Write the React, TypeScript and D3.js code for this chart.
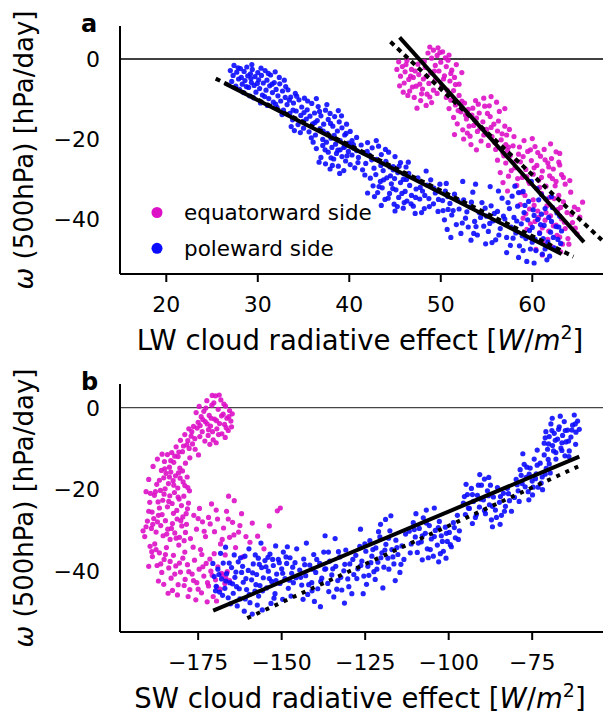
import React from "react";
import * as d3 from "d3";

const W = 603;
const H = 713;

const lwTicks = [20, 30, 40, 50, 60];
const swTicks = [-175, -150, -125, -100, -75];
const omegaTicks = [0, -20, -40];
const legendLabels = ["equatorward side", "poleward side"];

// Panel a: LW CRE vs omega, poleward side
const lwPole: [number, number][] = [
  [27.0,-2.9],[27.3,-4.1],[27.4,-1.6],[27.7,-3.3],[27.9,-5.0],[28.1,-2.4],[28.2,-4.6],[28.3,-6.3],[28.5,-3.1],[28.6,-5.4],[28.8,-2.0],[28.9,-4.2],[29.0,-7.1],[29.2,-3.7],[29.3,-5.9],[29.4,-2.6],[29.6,-6.6],[29.7,-4.4],[29.8,-8.3],[30.0,-3.4],[30.1,-5.2],[30.2,-7.4],[30.4,-4.1],[30.5,-9.0],[30.6,-6.0],[30.8,-2.9],[30.9,-7.8],[31.0,-5.3],[31.2,-9.9],[31.3,-6.7],[31.4,-4.0],[31.6,-8.4],[31.7,-10.8],[31.8,-5.9],[32.0,-7.6],[32.1,-12.1],[32.2,-9.2],[32.4,-6.2],[32.5,-10.5],[32.7,-8.0],[32.8,-12.8],[32.9,-5.3],[33.0,-9.6],[28.0,-7.6],[29.1,-9.2],[27.6,-6.8],[30.3,-11.0],[31.9,-3.2],
  [33.2,-11.4],[33.3,-7.7],[33.5,-13.6],[33.6,-9.5],[33.8,-15.2],[33.9,-11.0],[34.1,-8.6],[34.2,-13.0],[34.4,-16.4],[34.5,-10.2],[34.7,-14.1],[34.8,-12.0],[35.0,-17.3],[35.1,-9.8],[35.3,-15.0],[35.4,-12.7],[35.6,-18.2],[35.7,-14.3],[35.9,-11.1],[36.0,-16.2],[36.2,-13.5],[36.3,-19.0],[36.5,-15.4],[36.6,-11.9],[36.8,-17.4],[36.9,-14.2],[37.1,-20.1],[37.2,-16.3],[37.4,-12.8],[37.6,-18.6],[37.7,-15.1],[37.9,-13.6],[38.0,-19.8],[38.2,-16.8],[38.4,-14.4],[38.5,-21.3],[38.7,-18.0],[38.9,-15.7],[39.0,-20.4],[39.2,-17.2],[39.4,-22.1],[39.5,-19.0],[39.7,-16.3],[39.9,-21.0],[40.1,-18.1],[34.0,-17.9],[36.4,-9.9],[38.8,-12.9],
  [36.4,-22.4],[36.9,-24.6],[37.1,-21.6],[37.4,-26.2],[37.7,-23.3],[37.9,-27.5],[38.1,-22.1],[38.3,-25.0],[38.6,-23.6],[38.8,-26.8],[39.0,-22.7],[39.2,-24.4],[39.4,-27.9],[39.6,-25.5],[39.9,-23.1],[40.1,-26.4],[40.3,-24.0],[40.6,-27.2],[40.8,-22.9],[38.0,-24.7],[39.5,-21.9],[37.5,-20.8],
  [40.3,-20.4],[40.5,-22.3],[40.8,-19.6],[41.0,-24.6],[41.3,-21.5],[41.5,-23.4],[41.8,-26.1],[42.0,-20.9],[42.2,-24.0],[42.5,-22.2],[42.7,-27.3],[43.0,-25.1],[43.2,-21.8],[43.5,-23.9],[43.7,-27.9],[44.0,-25.6],[44.3,-23.3],[44.5,-29.2],[44.8,-26.9],[45.0,-24.4],[45.3,-28.4],[45.6,-25.9],[45.9,-30.1],[46.2,-27.0],[41.7,-29.0],
  [42.3,-29.8],[42.6,-31.7],[42.9,-28.9],[43.1,-33.4],[43.4,-30.6],[43.6,-32.2],[43.9,-35.1],[44.1,-29.7],[44.4,-33.6],[44.6,-31.2],[44.9,-36.3],[45.1,-32.7],[45.4,-34.6],[45.6,-30.9],[45.9,-37.3],[46.1,-33.1],[46.3,-35.5],[46.6,-31.6],[46.8,-34.1],[47.0,-36.8],[47.3,-32.5],[47.5,-29.7],[47.7,-35.0],[48.0,-33.0],[48.2,-37.4],[48.5,-31.5],[48.7,-34.9],[48.9,-30.2],[49.2,-36.2],[49.4,-33.5],[49.7,-38.1],[49.9,-31.3],[50.2,-35.4],[50.5,-33.0],[50.8,-37.6],[47.2,-38.6],[45.0,-38.0],[43.5,-36.6],[46.5,-28.6],[48.4,-28.0],[44.8,-27.7],[42.0,-33.5],
  [50.4,-40.2],[50.7,-42.6],[51.0,-36.1],[51.2,-39.0],[51.5,-33.8],[51.7,-41.4],[52.0,-37.5],[52.2,-43.6],[52.5,-35.2],[52.7,-39.8],[53.0,-42.0],[53.2,-37.0],[53.5,-33.3],[53.7,-40.6],[54.0,-44.0],[54.2,-38.4],[54.5,-35.9],[54.7,-41.8],[55.0,-39.3],[55.2,-43.1],[55.5,-36.7],[55.7,-40.5],[56.0,-45.2],[56.2,-38.1],[56.5,-42.4],[56.7,-34.8],[57.0,-40.0],[57.2,-44.6],[57.5,-37.4],[57.7,-42.0],[52.4,-30.6],[53.8,-31.3],[55.4,-31.9],[56.3,-33.0],[51.1,-44.6],[53.3,-45.3],[50.6,-31.1],[54.9,-46.2],
  [57.8,-34.3],[58.0,-39.6],[58.2,-43.5],[58.4,-36.8],[58.6,-46.7],[58.8,-41.2],[59.0,-33.1],[59.1,-38.4],[59.3,-44.9],[59.5,-40.2],[59.6,-35.6],[59.8,-47.5],[60.0,-42.1],[60.1,-37.7],[60.3,-45.0],[60.5,-32.4],[60.6,-40.1],[60.8,-43.6],[61.0,-38.8],[61.1,-48.8],[61.3,-41.6],[61.5,-35.0],[61.7,-45.8],[61.8,-39.6],[62.0,-43.3],[62.2,-37.1],[62.4,-47.2],[62.6,-41.9],[62.8,-45.1],[63.0,-39.3],[63.2,-43.0],[58.5,-49.6],[59.4,-50.6],[60.2,-51.0],[61.6,-50.2],[57.2,-48.4],[60.7,-35.2],[59.9,-30.6],[62.1,-34.4],[58.1,-31.8],[60.4,-47.9],[61.9,-49.3],
];
const lwPoleMore: [number, number][] = [
  [27.15,-5.6],[27.85,-2.2],[28.45,-8.4],[28.75,-6.9],[29.35,-1.4],[29.55,-9.7],[29.95,-6.1],[30.35,-2.3],[30.75,-9.4],[31.15,-3.6],[31.55,-6.3],[31.95,-11.3],[32.35,-4.6],[32.65,-13.9],[33.05,-6.9],[33.45,-10.3],[33.85,-12.8],[34.25,-9.3],[34.65,-18.4],[35.05,-13.4],[35.45,-10.5],[35.85,-19.7],[36.25,-15.9],[36.75,-13.1],[37.15,-18.0],[37.55,-11.4],[37.95,-16.1],[38.35,-19.1],[38.75,-22.8],[39.15,-14.2],[39.65,-18.6],[40.05,-21.6],[34.95,-15.6],[31.05,-11.6],[29.25,-4.9],[33.65,-16.9],[36.05,-20.8],
  [36.7,-25.8],[37.35,-22.7],[38.15,-26.6],[38.95,-28.6],[39.75,-24.2],[40.45,-21.4],[40.95,-25.9],[41.45,-27.7],[41.95,-23.1],[42.45,-25.2],[42.95,-20.4],[43.45,-26.6],[43.95,-22.6],[44.45,-27.0],[44.95,-29.9],[45.45,-26.8],[45.95,-28.7],[46.45,-25.8],
  [42.75,-34.4],[43.25,-31.9],[43.75,-30.2],[44.25,-34.8],[44.75,-32.4],[45.25,-36.9],[45.75,-33.6],[46.25,-30.1],[46.75,-36.2],[47.25,-34.6],[47.75,-32.1],[48.25,-34.1],[48.75,-36.9],[49.25,-32.3],[49.75,-35.1],[50.25,-37.9],[50.75,-34.4],[46.0,-35.9],[47.9,-38.4],
  [51.35,-37.9],[51.85,-35.3],[52.35,-41.0],[52.85,-38.2],[53.35,-35.8],[53.85,-41.9],[54.35,-39.6],[54.85,-37.3],[55.35,-41.1],[55.85,-38.6],[56.35,-44.0],[56.85,-39.3],[57.35,-35.9],[53.6,-43.6],[55.6,-45.9],[57.6,-46.6],
  [58.3,-40.5],[58.9,-44.2],[59.2,-36.6],[59.7,-42.9],[60.2,-39.1],[60.9,-41.4],[61.4,-37.4],[61.2,-44.9],[62.1,-40.6],[62.7,-38.5],[62.3,-44.6],[63.1,-46.1],[60.0,-45.8],[59.0,-47.9],[61.4,-47.5],[57.9,-44.8],[62.9,-42.0],[58.5,-33.4],[61.0,-33.9],
];

// Panel a: LW CRE vs omega, equatorward side
const lwEq: [number, number][] = [
  [45.2,-2.6],[45.4,-0.7],[45.6,-4.3],[45.8,-1.9],[46.0,-6.0],[46.1,-3.2],[46.3,-0.4],[46.5,-5.1],[46.6,-8.0],[46.8,-2.6],[47.0,-4.6],[47.1,-9.6],[47.3,-6.8],[47.5,-1.3],[47.6,-3.9],[47.8,-10.4],[48.0,-7.5],[48.1,-5.0],[48.3,-2.1],[48.5,-8.8],[48.7,-6.1],[48.9,-3.5],[49.0,-10.9],[49.2,-7.8],[49.4,-5.3],[46.9,-7.0],[45.9,-8.3],[48.4,-11.6],[47.4,-12.3],
  [48.6,1.5],[48.8,3.0],[49.0,0.2],[49.2,2.2],[49.4,-1.6],[49.6,0.9],[49.8,-3.0],[50.0,-0.8],[50.2,1.8],[50.4,-4.2],[50.6,-1.9],[50.8,-0.3],[51.0,-5.5],[51.2,-2.8],[51.5,-4.6],[51.7,-1.4],[52.0,-6.3],[52.3,-3.4],[50.1,-6.8],[51.4,-7.9],[49.7,2.8],[50.9,1.0],
  [50.6,-9.6],[50.9,-12.4],[51.1,-10.3],[51.4,-14.6],[51.6,-11.5],[51.8,-16.2],[52.0,-9.1],[52.2,-13.2],[52.4,-17.7],[52.6,-11.0],[52.8,-15.0],[53.0,-12.6],[53.2,-19.3],[53.4,-14.0],[53.6,-16.6],[53.8,-10.4],[54.0,-18.1],[54.2,-13.5],[54.4,-20.5],[54.6,-15.7],[54.8,-11.8],[55.0,-17.6],[55.2,-21.6],[55.4,-14.4],[55.6,-19.4],[55.8,-16.3],[56.0,-22.6],[56.2,-18.0],[56.4,-13.1],[56.6,-20.2],[56.8,-23.5],[57.0,-16.8],[57.2,-19.0],[57.4,-22.0],[53.3,-21.4],[52.5,-20.0],[51.5,-18.9],[55.5,-9.4],[56.1,-10.8],[54.7,-9.8],[57.0,-12.4],[53.9,-22.7],
  [56.2,-25.3],[56.5,-28.4],[56.8,-30.9],[57.1,-26.0],[57.4,-29.3],[57.6,-24.1],[57.9,-21.7],[58.1,-27.2],[58.3,-31.6],[58.5,-23.8],[58.7,-25.7],[58.9,-29.6],[59.1,-20.4],[59.3,-27.6],[59.5,-23.1],[59.7,-31.1],[59.9,-25.4],[60.1,-28.8],[60.3,-21.9],[60.5,-26.6],[60.7,-30.3],[60.9,-24.3],[61.1,-28.0],[61.3,-22.6],[61.5,-31.8],[61.7,-26.0],[61.9,-29.2],[62.1,-24.9],[62.3,-27.5],[62.6,-30.6],[62.9,-25.8],[63.2,-28.9],[63.6,-31.3],[58.0,-19.4],[60.0,-19.9],[62.0,-21.2],[63.0,-23.6],[57.3,-33.0],[58.8,-33.4],
  [58.7,-36.4],[59.0,-39.8],[59.2,-34.1],[59.4,-42.6],[59.7,-37.5],[59.9,-44.8],[60.1,-35.2],[60.3,-40.6],[60.6,-38.0],[60.8,-43.4],[61.0,-33.6],[61.2,-46.1],[61.4,-40.3],[61.6,-36.7],[61.8,-43.0],[62.0,-39.2],[62.2,-47.0],[62.4,-34.9],[62.6,-41.5],[62.8,-37.6],[63.0,-44.5],[63.2,-40.0],[63.4,-35.7],[63.6,-42.4],[63.8,-38.4],[64.0,-46.3],[64.2,-33.3],[64.4,-40.9],[64.6,-37.0],[64.9,-43.7],[65.2,-39.5],[65.5,-35.8],[64.1,-30.4],[63.1,-48.2],[61.1,-49.0],[60.4,-47.6],[62.5,-31.7],[59.6,-30.6],
];
const lwEqMore: [number, number][] = [
  [45.5,-6.7],[46.2,-1.4],[46.7,-4.3],[47.2,-3.0],[47.7,-6.3],[48.2,-0.6],[48.8,-9.5],[49.3,-3.0],[49.6,-8.6],[50.3,-5.0],[50.7,-7.8],[51.1,-3.6],[51.6,-6.4],[49.9,1.6],[50.5,0.3],[48.4,-4.4],[47.9,-8.7],[46.4,-9.1],
  [51.9,-12.9],[52.3,-10.5],[52.7,-14.0],[53.1,-16.8],[53.5,-12.3],[53.9,-14.8],[54.3,-17.3],[54.7,-19.0],[55.1,-13.6],[55.5,-17.1],[55.9,-20.9],[56.3,-15.5],[56.7,-18.7],[57.1,-21.4],[57.5,-17.6],[54.1,-11.3],[55.3,-11.7],[52.9,-18.5],
  [56.9,-24.2],[57.3,-22.9],[57.7,-27.9],[58.2,-25.5],[58.6,-22.0],[59.0,-24.4],[59.4,-29.4],[59.8,-22.7],[60.2,-27.2],[60.6,-23.4],[61.0,-29.6],[61.4,-25.2],[61.8,-27.0],[62.2,-29.9],[62.6,-23.2],[63.0,-26.5],[63.4,-29.6],[58.4,-29.9],[60.8,-32.1],
  [59.3,-38.7],[59.8,-41.2],[60.2,-36.6],[60.7,-39.6],[61.1,-42.2],[61.5,-38.4],[61.9,-34.6],[62.3,-41.7],[62.7,-44.1],[63.1,-37.1],[63.5,-40.8],[63.9,-44.9],[64.3,-38.9],[64.7,-42.3],[65.0,-37.6],[62.9,-34.1],[61.7,-45.1],[63.3,-46.3],
];

// Panel b: SW CRE vs omega, equatorward side
const swEq: [number, number][] = [
  [-175.6,-1.2],[-175.0,-3.6],[-174.7,0.3],[-174.1,-2.2],[-173.8,-5.9],[-173.3,-0.9],[-172.9,-3.4],[-172.4,1.7],[-172.0,-6.8],[-171.7,-1.9],[-171.3,-4.5],[-170.9,0.6],[-170.5,-7.9],[-170.1,-2.8],[-169.8,2.9],[-169.4,-5.2],[-169.0,-0.4],[-168.6,-3.9],[-168.2,1.9],[-167.9,-6.4],[-167.5,-1.6],[-167.1,-4.1],[-166.8,0.4],[-166.4,-2.6],[-166.0,-5.6],[-165.6,-0.7],[-165.2,-3.3],[-164.8,-1.5],[-171.5,-9.0],[-169.6,-8.6],[-173.0,-8.2],[-168.7,3.1],[-170.8,3.0],[-174.5,-7.1],[-166.9,-7.3],
  [-176.4,-4.6],[-177.1,-7.0],[-177.8,-5.2],[-178.4,-9.1],[-179.0,-6.6],[-179.7,-10.8],[-180.3,-8.0],[-181.0,-12.0],[-181.6,-9.6],[-182.3,-13.4],[-182.9,-11.0],[-183.6,-14.6],[-175.9,-10.2],[-177.5,-12.3],[-178.8,-13.6],[-180.5,-14.8],[-184.2,-11.5],[-176.7,-8.9],[-174.9,-11.6],[-185.1,-13.2],
  [-186.0,-15.4],[-185.3,-17.2],[-184.6,-16.1],[-183.9,-18.6],[-183.2,-15.8],[-182.5,-17.9],[-181.8,-16.7],[-181.1,-19.7],[-180.4,-17.3],[-179.7,-15.5],[-179.0,-19.1],[-178.3,-17.0],[-177.6,-20.4],[-187.4,-18.8],[-188.1,-21.5],[-187.0,-23.1],[-186.3,-20.3],[-185.6,-22.7],[-184.9,-19.9],[-184.2,-24.3],[-183.5,-21.6],[-182.8,-23.5],[-182.1,-20.8],[-181.4,-25.2],[-180.7,-22.4],[-180.0,-24.0],[-179.3,-21.7],[-178.6,-26.0],[-177.9,-23.4],[-188.8,-25.6],[-189.5,-23.2],[-190.2,-27.8],[-189.0,-29.6],[-188.3,-27.2],[-187.6,-30.5],[-186.9,-26.4],[-186.2,-28.9],[-185.5,-31.4],[-184.8,-27.7],[-184.1,-29.8],[-183.4,-32.3],[-182.7,-28.4],[-182.0,-30.7],[-181.3,-27.3],[-180.6,-31.8],[-179.9,-29.0],[-179.2,-32.6],[-178.5,-28.6],[-191.0,-31.6],[-191.5,-30.2],[-190.6,-20.6],[-189.8,-17.6],[-188.5,-14.4],[-187.2,-12.6],[-185.8,-11.4],
  [-189.4,-34.0],[-188.7,-36.5],[-188.0,-33.4],[-187.3,-38.7],[-186.6,-35.6],[-185.9,-40.4],[-185.2,-37.2],[-184.5,-34.3],[-183.8,-39.3],[-183.1,-41.8],[-182.4,-36.2],[-181.7,-38.8],[-181.0,-43.4],[-180.3,-40.3],[-179.6,-36.9],[-178.9,-42.1],[-178.2,-38.5],[-177.5,-44.6],[-176.8,-40.8],[-176.1,-37.4],[-175.4,-42.9],[-174.7,-39.6],[-174.0,-45.4],[-173.3,-41.3],[-172.6,-38.2],[-171.9,-43.7],[-171.2,-40.1],[-170.5,-46.3],[-169.8,-42.2],[-169.1,-39.0],[-168.4,-44.5],[-167.7,-41.0],[-167.0,-43.1],[-166.3,-40.2],[-165.6,-42.4],[-184.0,-45.5],[-172.3,-47.6],[-178.0,-46.3],[-180.8,-33.7],[-176.5,-34.2],[-173.9,-36.0],[-170.2,-35.8],[-175.7,-47.1],[-169.5,-47.4],[-186.9,-42.5],[-182.7,-44.8],[-177.3,-32.1],[-189.8,-38.9],
  [-176.3,-26.4],[-175.5,-29.8],[-174.6,-24.7],[-173.7,-28.0],[-172.8,-31.6],[-171.9,-26.9],[-171.0,-23.6],[-170.1,-30.4],[-169.2,-27.3],[-168.3,-33.4],[-167.4,-29.5],[-166.5,-25.4],[-165.6,-31.8],[-164.7,-28.1],[-163.8,-34.3],[-162.9,-30.5],[-164.2,-22.8],[-165.9,-21.7],[-161.6,-36.6],[-159.5,-33.0],[-157.2,-31.5],[-155.3,-34.6],[-153.7,-29.0],[-151.3,-25.3],[-150.4,-24.6],[-158.8,-28.3],[-162.0,-26.0],
];
const swEqMore: [number, number][] = [
  [-175.3,-5.0],[-174.4,-4.4],[-173.6,-2.9],[-172.7,-0.1],[-171.9,-5.4],[-171.1,-2.6],[-170.3,1.2],[-169.5,-3.2],[-168.9,-6.6],[-168.0,-2.0],[-167.3,0.9],[-166.6,-4.9],[-165.8,-2.2],[-165.0,-4.7],[-170.7,-5.9],[-172.3,-4.0],
  [-176.9,-5.9],[-178.1,-8.1],[-179.4,-9.4],[-180.8,-10.9],[-182.0,-11.9],[-183.2,-13.0],[-176.0,-7.6],[-177.7,-10.0],
  [-186.6,-17.8],[-185.0,-15.0],[-183.6,-17.0],[-182.3,-19.0],[-180.9,-16.0],[-179.5,-18.2],[-178.1,-19.6],[-187.8,-20.6],[-186.6,-24.6],[-185.2,-21.2],[-183.8,-23.0],[-182.4,-25.9],[-181.0,-21.9],[-179.6,-26.8],[-178.2,-24.8],[-189.8,-25.4],[-188.6,-28.6],[-187.2,-28.0],[-185.8,-26.2],[-184.4,-31.0],[-183.0,-29.6],[-181.6,-32.0],[-180.2,-27.7],[-178.8,-30.6],[-190.6,-29.2],[-189.3,-21.0],
  [-188.9,-35.3],[-187.6,-34.8],[-186.2,-38.3],[-184.8,-36.0],[-183.4,-37.7],[-182.0,-40.8],[-180.6,-38.1],[-179.2,-43.6],[-177.8,-40.2],[-176.4,-42.4],[-175.0,-44.5],[-173.6,-39.0],[-172.2,-42.9],[-170.8,-41.1],[-169.4,-44.0],[-168.0,-40.6],[-166.7,-41.8],[-185.3,-43.3],[-181.2,-45.9],[-179.0,-35.4],[-174.3,-34.8],[-171.5,-37.1],
  [-175.0,-27.2],[-173.2,-30.3],[-171.4,-28.5],[-169.6,-25.1],[-167.8,-32.3],[-166.0,-27.3],[-164.3,-31.2],[-162.5,-28.9],[-160.7,-31.6],[-166.9,-36.1],
];

// Panel b: SW CRE vs omega, poleward side
const swPole: [number, number][] = [
  [-170.2,-41.4],[-169.6,-43.8],[-169.1,-39.6],[-168.6,-45.2],[-168.0,-42.0],[-167.5,-38.1],[-167.0,-44.3],[-166.5,-40.7],[-166.0,-46.6],[-165.5,-42.9],[-165.0,-39.2],[-164.5,-45.5],[-164.0,-41.6],[-163.5,-43.9],[-163.0,-37.8],[-162.5,-46.9],[-162.0,-40.4],[-161.5,-42.8],[-161.0,-36.4],[-160.5,-44.6],[-160.0,-39.9],[-159.5,-47.8],[-159.0,-42.2],[-158.5,-38.3],[-158.0,-45.0],[-157.5,-40.9],[-157.0,-36.9],[-156.5,-43.6],[-156.0,-39.2],[-155.5,-41.7],[-155.0,-37.5],[-154.5,-44.2],[-154.0,-40.1],[-153.5,-35.9],[-153.0,-42.6],[-152.5,-38.7],[-152.0,-45.6],[-151.5,-40.8],[-151.0,-37.2],[-150.5,-43.1],[-150.0,-39.5],[-149.5,-35.4],[-149.0,-41.9],[-148.5,-38.2],[-148.0,-44.3],[-147.5,-36.8],[-147.0,-40.6],[-146.5,-42.9],[-146.0,-38.0],[-145.5,-34.6],[-168.3,-35.7],[-166.8,-34.2],[-164.2,-36.1],[-163.3,-48.6],[-161.2,-49.9],[-158.8,-50.6],[-157.3,-48.4],[-155.8,-49.6],[-153.2,-48.0],[-151.8,-33.9],[-149.7,-47.0],[-147.2,-46.2],[-170.6,-38.2],[-159.8,-34.6],[-156.2,-33.2],
  [-144.6,-39.8],[-144.0,-43.5],[-143.4,-37.1],[-142.8,-41.2],[-142.2,-45.8],[-141.6,-38.6],[-141.0,-42.9],[-140.4,-36.0],[-139.8,-40.4],[-139.2,-44.4],[-138.6,-38.2],[-138.0,-41.8],[-137.4,-35.4],[-136.8,-39.5],[-136.2,-43.1],[-135.6,-37.6],[-135.0,-41.0],[-134.4,-46.4],[-133.8,-38.9],[-133.2,-42.4],[-132.6,-36.6],[-132.0,-44.7],[-131.4,-40.0],[-130.8,-34.9],[-130.2,-42.0],[-129.6,-38.3],[-129.0,-45.6],[-128.4,-40.9],[-137.0,-31.4],[-140.2,-47.5],[-142.6,-33.2],[-134.0,-32.1],[-138.4,-48.8],[-143.6,-47.0],[-131.2,-47.9],
  [-127.8,-36.2],[-127.2,-39.5],[-126.6,-34.0],[-126.0,-37.6],[-125.4,-41.3],[-124.8,-35.2],[-124.2,-38.9],[-123.6,-32.6],[-123.0,-36.4],[-122.4,-40.2],[-121.8,-34.4],[-121.2,-37.9],[-120.6,-31.7],[-120.0,-35.6],[-119.4,-39.1],[-118.8,-33.5],[-118.2,-36.9],[-117.6,-30.2],[-117.0,-34.8],[-116.4,-38.3],[-115.8,-32.5],[-115.2,-36.0],[-114.6,-40.4],[-114.0,-33.9],[-113.4,-37.2],[-118.9,-27.4],[-120.4,-28.6],[-124.6,-43.3],[-122.0,-42.1],[-126.4,-29.8],[-116.0,-42.4],[-119.7,-44.2],[-117.3,-26.5],[-112.9,-31.0],[-125.6,-45.6],
  [-111.8,-30.3],[-111.2,-33.4],[-110.6,-28.2],[-110.0,-31.7],[-109.4,-35.5],[-108.8,-29.6],[-108.2,-32.9],[-107.6,-27.0],[-107.0,-30.8],[-106.4,-34.6],[-105.8,-28.9],[-105.2,-32.2],[-104.6,-36.4],[-104.0,-30.1],[-103.4,-33.7],[-102.8,-27.9],[-102.2,-31.4],[-101.6,-35.2],[-101.0,-29.3],[-100.4,-32.8],[-99.8,-30.6],[-99.2,-34.1],[-98.6,-28.2],[-98.0,-31.9],[-97.4,-26.4],[-107.9,-37.3],[-104.3,-24.6],[-100.8,-36.9],[-106.7,-25.1],[-96.8,-30.2],[-109.8,-26.0],[-103.0,-37.8],
  [-95.6,-23.4],[-95.0,-26.2],[-94.4,-21.3],[-93.8,-24.7],[-93.2,-19.8],[-92.6,-23.0],[-92.0,-26.9],[-91.4,-21.5],[-90.8,-24.4],[-90.2,-19.0],[-89.6,-22.6],[-89.0,-26.0],[-88.4,-20.4],[-87.8,-23.8],[-87.2,-27.5],[-86.6,-21.9],[-86.0,-25.1],[-85.4,-19.6],[-84.8,-23.2],[-84.2,-26.4],[-83.6,-21.0],[-83.0,-24.2],[-82.4,-19.8],[-81.8,-22.8],[-81.2,-25.4],[-90.7,-16.4],[-89.3,-17.5],[-86.9,-29.2],[-92.9,-28.4],[-88.0,-17.1],[-84.6,-28.6],[-94.8,-18.8],
  [-79.8,-17.6],[-79.2,-20.4],[-78.6,-15.2],[-78.0,-18.6],[-77.4,-13.9],[-76.8,-17.1],[-76.2,-20.6],[-75.6,-14.8],[-75.0,-18.0],[-74.4,-12.6],[-73.8,-16.2],[-73.2,-19.5],[-72.6,-13.6],[-72.0,-17.0],[-71.4,-11.6],[-70.8,-14.9],[-70.2,-12.7],[-69.6,-16.0],[-76.0,-22.6],[-80.3,-22.0],[-73.5,-10.4],[-77.8,-11.3],[-74.9,-21.4],[-71.9,-20.1],[-78.9,-23.0],
  [-71.4,-8.7],[-70.9,-5.9],[-70.4,-10.2],[-69.9,-7.1],[-69.4,-4.0],[-68.9,-9.3],[-68.4,-6.3],[-67.9,-11.0],[-67.4,-7.7],[-66.9,-4.7],[-66.4,-9.9],[-65.9,-6.8],[-65.4,-3.4],[-64.9,-8.4],[-64.4,-5.5],[-63.9,-10.6],[-63.4,-7.2],[-62.9,-4.3],[-62.4,-1.8],[-61.9,-6.0],[-61.4,-3.3],[-69.0,-2.6],[-66.6,-2.1],[-64.0,-12.0],[-62.0,-9.0],[-60.9,-5.3],[-67.9,-12.6],[-65.2,-11.8],
];
const swPoleMore: [number, number][] = [
  [-169.8,-44.9],[-168.8,-40.9],[-167.7,-46.0],[-166.7,-42.5],[-165.7,-38.1],[-164.7,-43.2],[-163.7,-40.3],[-162.7,-44.4],[-161.7,-38.9],[-160.7,-41.9],[-159.7,-45.8],[-158.7,-40.5],[-157.7,-43.4],[-156.7,-38.4],[-155.7,-44.9],[-154.7,-39.0],[-153.7,-41.9],[-152.7,-37.2],[-151.7,-42.4],[-150.7,-38.0],[-149.7,-40.6],[-148.7,-36.6],[-147.7,-42.3],[-146.7,-39.1],[-145.7,-41.7],[-165.3,-48.1],[-160.9,-46.9],[-156.9,-46.2],[-152.3,-46.7],[-157.9,-36.1],[-154.1,-36.7],[-148.3,-34.1],[-162.3,-36.8],
  [-144.3,-41.6],[-143.1,-38.5],[-141.9,-43.4],[-140.7,-39.6],[-139.5,-37.2],[-138.3,-42.6],[-137.1,-39.6],[-135.9,-45.1],[-134.7,-39.5],[-133.5,-44.5],[-132.3,-41.6],[-131.1,-38.4],[-129.9,-43.9],[-128.7,-37.2],[-136.0,-35.4],[-140.9,-44.9],[-133.0,-35.3],
  [-127.5,-41.9],[-126.3,-38.7],[-125.1,-33.4],[-123.9,-41.1],[-122.7,-34.8],[-121.5,-39.6],[-120.3,-36.8],[-119.1,-34.9],[-117.9,-39.6],[-116.7,-36.6],[-115.5,-34.3],[-114.3,-38.4],[-121.0,-30.4],[-118.0,-32.0],[-123.3,-38.0],
  [-111.5,-35.6],[-110.3,-29.9],[-109.1,-33.2],[-107.9,-31.4],[-106.7,-28.3],[-105.5,-34.8],[-104.3,-31.6],[-103.1,-29.4],[-101.9,-32.8],[-100.7,-30.8],[-99.5,-33.6],[-98.3,-29.4],[-106.1,-36.8],[-102.5,-35.8],[-97.1,-32.3],
  [-95.3,-21.8],[-94.1,-24.6],[-92.9,-21.3],[-91.7,-26.2],[-90.5,-22.4],[-89.3,-25.2],[-88.1,-21.6],[-86.9,-24.2],[-85.7,-26.9],[-84.5,-21.8],[-83.3,-25.4],[-82.1,-21.1],[-91.1,-19.0],[-87.5,-19.0],
  [-79.5,-18.9],[-78.3,-16.6],[-77.1,-19.4],[-75.9,-16.3],[-74.7,-19.5],[-73.5,-14.1],[-72.3,-18.5],[-71.1,-16.3],[-69.9,-13.8],[-76.6,-14.6],[-74.0,-17.4],
  [-71.1,-7.4],[-70.1,-8.9],[-69.1,-5.6],[-68.1,-8.0],[-67.1,-5.3],[-66.1,-8.6],[-65.1,-5.6],[-64.1,-8.2],[-63.1,-5.5],[-62.1,-4.0],[-68.6,-10.6],[-66.1,-10.5],
];

// regression lines (endpoints)
const lwPoleFit: [number, number][] = [[26.4, -6.1], [63.2, -48.75]];
const lwPoleFitDotted: [number, number][] = [[25.4, -4.9], [64.5, -49.4]];
const lwEqFit: [number, number][] = [[45.5, 5.4], [65.65, -45.8]];
const lwEqFitDotted: [number, number][] = [[44.5, 4.3], [67.6, -45.25]];
const swFit: [number, number][] = [[-170.5, -49.75], [-60.9, -12.0]];
const swFitDotted: [number, number][] = [[-160.3, -51.6], [-60.4, -14.1]];

const MAGENTA = "#dc10c6";
const BLUE = "#0b0bff";
const FONT = "DejaVu Sans, sans-serif";

type PanelProps = {
  letter: string;
  top: number;
  bottom: number;
  xDomain: [number, number];
  yDomain: [number, number];
  xTicks: number[];
  eq: [number, number][];
  pole: [number, number][];
  solidLines: [number, number][][];
  dottedLines: [number, number][][];
  dash: string;
  xLabelPrefix: string;
  zeroColor: string;
  legend: boolean;
};

const fmt = (v: number) => (v < 0 ? "\u2212" + Math.abs(v) : String(v));

function Panel(p: PanelProps) {
  const left = 120;
  const right = 603;
  const x = d3.scaleLinear().domain(p.xDomain).range([left, right]);
  const y = d3.scaleLinear().domain(p.yDomain).range([p.top, p.bottom]);
  const line = d3
    .line<[number, number]>()
    .x((d) => x(d[0]))
    .y((d) => y(d[1]));
  const midY = (p.top + p.bottom) / 2;
  return (
    <g>
      <line x1={left} x2={right} y1={y(0)} y2={y(0)} stroke={p.zeroColor} strokeWidth={1.3} />
      {p.eq.map((d, i) => (
        <circle key={"e" + i} cx={x(d[0])} cy={y(d[1])} r={2.6} fill={MAGENTA} opacity={0.9} />
      ))}
      {p.pole.map((d, i) => (
        <circle key={"p" + i} cx={x(d[0])} cy={y(d[1])} r={2.6} fill={BLUE} opacity={0.9} />
      ))}
      {p.dottedLines.map((l, i) => (
        <path key={"d" + i} d={line(l) || ""} stroke="black" strokeWidth={4} strokeDasharray={p.dash} fill="none" />
      ))}
      {p.solidLines.map((l, i) => (
        <path key={"s" + i} d={line(l) || ""} stroke="black" strokeWidth={4} fill="none" />
      ))}
      <line x1={left} x2={left} y1={p.top} y2={p.bottom} stroke="black" strokeWidth={2} />
      <line x1={left} x2={right} y1={p.bottom} y2={p.bottom} stroke="black" strokeWidth={2} />
      {p.xTicks.map((t) => (
        <g key={t}>
          <line x1={x(t)} x2={x(t)} y1={p.bottom} y2={p.bottom + 8} stroke="black" strokeWidth={2} />
          <text x={x(t)} y={p.bottom + 38} textAnchor="middle" fontSize={22} fontFamily={FONT}>
            {fmt(t)}
          </text>
        </g>
      ))}
      {omegaTicks.map((t) => (
        <text key={t} x={100} y={y(t) + 8} textAnchor="end" fontSize={22} fontFamily={FONT}>
          {fmt(t)}
        </text>
      ))}
      <text x={360} y={p.bottom + 76} textAnchor="middle" fontSize={27.5} fontFamily={FONT}>
        {p.xLabelPrefix + " cloud radiative effect ["}
        <tspan fontStyle="italic">W</tspan>
        {"/"}
        <tspan fontStyle="italic">m</tspan>
        <tspan fontSize={19} dy={-11}>2</tspan>
        <tspan dy={11}>]</tspan>
      </text>
      <text
        transform={`translate(33,${midY}) rotate(-90)`}
        textAnchor="middle"
        fontSize={26}
        fontFamily={FONT}
      >
        <tspan fontStyle="italic">ω</tspan>
        {" (500hPa) [hPa/day]"}
      </text>
      <text x={81} y={p.top + 6} fontSize={24} fontWeight="bold" fontFamily={FONT}>
        {p.letter}
      </text>
      {p.legend && (
        <g>
          {legendLabels.map((lab, i) => (
            <g key={lab}>
              <circle cx={157} cy={212.5 + i * 35.8} r={5.5} fill={i === 0 ? MAGENTA : BLUE} />
              <text x={184} y={220 + i * 35.8} fontSize={21.5} fontFamily={FONT}>
                {lab}
              </text>
            </g>
          ))}
        </g>
      )}
    </g>
  );
}

export default function App() {
  return (
    <svg width={W} height={H} style={{ display: "block", position: "absolute", left: 0, top: 0, background: "white" }}>
      <Panel
        letter="a"
        top={26}
        bottom={274}
        xDomain={[14.94, 67.73]}
        yDomain={[8.25, -53.75]}
        xTicks={lwTicks}
        eq={[...lwEq, ...lwEqMore]}
        pole={[...lwPole, ...lwPoleMore]}
        solidLines={[lwPoleFit, lwEqFit]}
        dottedLines={[lwPoleFitDotted, lwEqFitDotted]}
        dash="5,4.5"
        xLabelPrefix="LW"
        zeroColor="black"
        legend={true}
      />
      <Panel
        letter="b"
        top={384}
        bottom={632}
        xDomain={[-198.4, -53.8]}
        yDomain={[5.8, -55.0]}
        xTicks={swTicks}
        eq={[...swEq, ...swEqMore]}
        pole={[...swPole, ...swPoleMore]}
        solidLines={[swFit]}
        dottedLines={[swFitDotted]}
        dash="4,6"
        xLabelPrefix="SW"
        zeroColor="#444"
        legend={false}
      />
    </svg>
  );
}
